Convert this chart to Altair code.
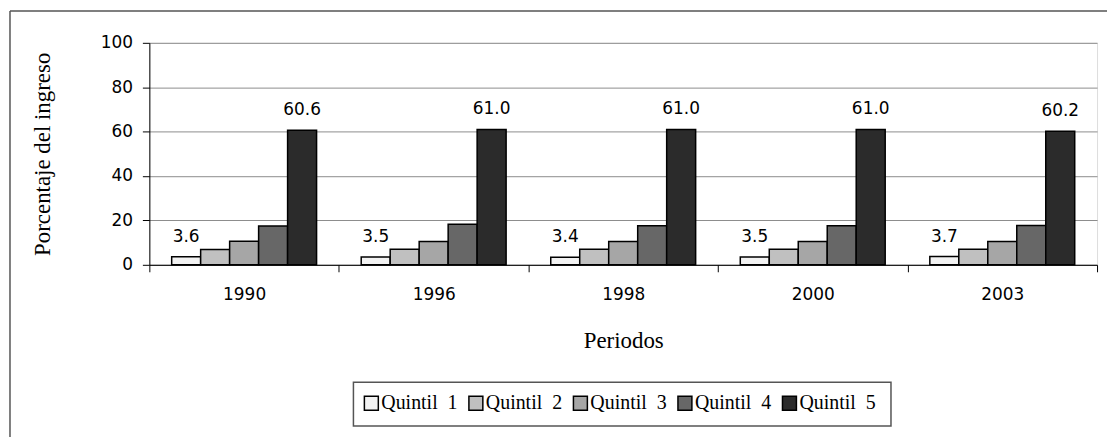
import altair as alt
import pandas as pd

years = ["1990", "1996", "1998", "2000", "2003"]
quintiles = ["Quintil\u00a0\u00a01", "Quintil\u00a0\u00a02", "Quintil\u00a0\u00a03",
             "Quintil\u00a0\u00a04", "Quintil\u00a0\u00a05"]
q1 = [3.6, 3.5, 3.4, 3.5, 3.7]
q2 = [6.9, 7.0, 7.0, 7.0, 7.0]
q3 = [10.6, 10.5, 10.5, 10.5, 10.5]
q4 = [17.5, 18.3, 17.6, 17.6, 17.7]
q5 = [60.6, 61.0, 61.0, 61.0, 60.2]
colors = ["#f2f2f2", "#c0c0c0", "#a6a6a6", "#676767", "#2b2b2b"]

series = [q1, q2, q3, q4, q5]
rows = []
for qi, (qname, vals) in enumerate(zip(quintiles, series)):
    for y, v in zip(years, vals):
        lab = f"{v:.1f}" if qi in (0, 4) else ""
        rows.append({"year": y, "quintil": qname, "value": v, "label": lab})
df = pd.DataFrame(rows)

W, H = 952, 223

x_enc = alt.X(
    "year:N",
    sort=years,
    scale=alt.Scale(paddingInner=0, paddingOuter=0),
    axis=alt.Axis(
        title="Periodos",
        tickBand="extent",
        labelAngle=0,
        labelFont="DejaVu Sans",
        labelFontSize=17,
        labelColor="#000",
        labelPadding=15,
        tickSize=7,
        tickColor="#000",
        domainColor="#000",
        titleFont="Liberation Serif",
        titleFontSize=23,
        titleFontWeight="normal",
        titleColor="#000",
        titleBaseline="alphabetic",
        titleY=83,
        grid=False,
    ),
)
xoff = alt.XOffset(
    "quintil:N",
    sort=quintiles,
    scale=alt.Scale(paddingOuter=0.77, paddingInner=0),
)

bars = alt.Chart(df).mark_bar(stroke="#000", strokeWidth=1.5).encode(
    x=x_enc,
    xOffset=xoff,
    y=alt.Y(
        "value:Q",
        scale=alt.Scale(domain=[0, 100], nice=False),
        axis=alt.Axis(
            title="Porcentaje del ingreso",
            values=[0, 20, 40, 60, 80, 100],
            labelFont="DejaVu Sans",
            labelFontSize=17,
            labelColor="#000",
            labelPadding=10,
            tickSize=7,
            tickColor="#000",
            domainColor="#000",
            gridColor="#8c8c8c",
            titleFont="Liberation Serif",
            titleFontSize=23,
            titleFontWeight="normal",
            titleColor="#000",
            titleX=-95,
            titleY=H / 2,
        ),
    ),
    color=alt.Color(
        "quintil:N",
        sort=quintiles,
        scale=alt.Scale(domain=quintiles, range=colors),
        legend=alt.Legend(
            title=None,
            orient="none",
            legendX=213,
            legendY=352,
            direction="horizontal",
            columns=5,
            symbolType="square",
            symbolSize=196,
            symbolStrokeColor="#000",
            symbolStrokeWidth=1.5,
            labelFont="Liberation Serif",
            labelFontSize=20,
            labelColor="#000",
            labelOffset=0,
            columnPadding=8,
            padding=0,
            labelLimit=200,
        ),
    ),
)

texts = alt.Chart(df).mark_text(
    font="DejaVu Sans", fontSize=17, color="#000", baseline="middle", dy=-20
).encode(
    x=alt.X("year:N", sort=years),
    xOffset=xoff,
    y=alt.Y("value:Q"),
    text="label:N",
)

one = pd.DataFrame({"a": [0]})
frame_left = alt.Chart(one).mark_rule(color="#555", strokeWidth=1.5).encode(
    x=alt.value(-140), y=alt.value(-32), y2=alt.value(H + 200)
)
frame_top = alt.Chart(one).mark_rule(color="#555", strokeWidth=1.5).encode(
    x=alt.value(-140), x2=alt.value(W + 40), y=alt.value(-32)
)
legend_box = alt.Chart(one).mark_rect(fill="white", fillOpacity=0, stroke="#555", strokeWidth=1.5).encode(
    x=alt.value(205), x2=alt.value(745), y=alt.value(341), y2=alt.value(385)
)

chart = alt.layer(legend_box, bars, texts, frame_left, frame_top).properties(
    width=W,
    height=H,
    autosize=alt.AutoSizeParams(type="none"),
    padding={"left": 142, "top": 34, "right": 10, "bottom": 172},
).configure_view(stroke="#8c8c8c").configure(background="white")

chart.save("out.html", embed_options={"renderer": "svg", "actions": False})
